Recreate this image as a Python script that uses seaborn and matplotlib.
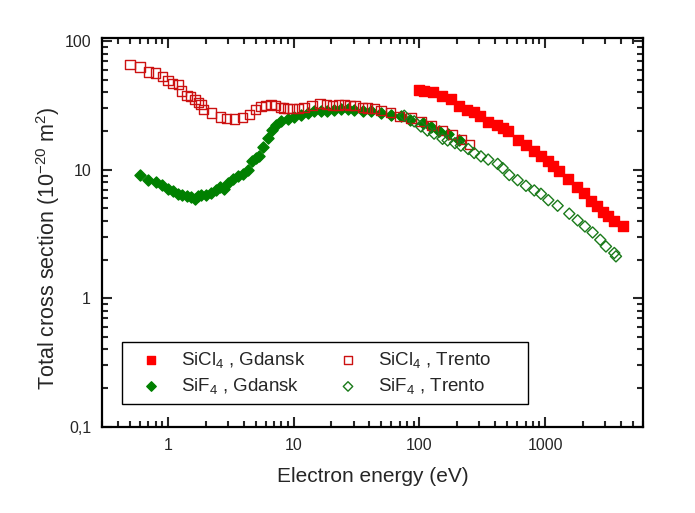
import numpy as np
import pandas as pd
import matplotlib
matplotlib.use("Agg")
import matplotlib.pyplot as plt
from matplotlib.patches import Rectangle
from matplotlib.ticker import FixedLocator, LogLocator, NullFormatter
import seaborn as sns

# SiCl4, Gdansk (filled squares)
sicl4_gd_e = [100, 109, 128, 151, 178, 208, 239, 274, 305, 353, 412, 460, 509,
              612, 709, 821, 927, 1049, 1148, 1297, 1530, 1795, 2052, 2318,
              2588, 2871, 3147, 3555, 4142]
sicl4_gd_q = [42, 41.2, 40.2, 37.7, 35.7, 31.6, 29.3, 27.9, 26, 23.5, 22.3, 21.2,
              20.1, 17.1, 15.6, 14.1, 12.7, 11.6, 10.7, 9.7, 8.5, 7.4, 6.6, 5.7,
              5.2, 4.7, 4.4, 3.96, 3.62]

# SiCl4, Trento (open squares)
sicl4_tr_e = [0.5, 0.6, 0.7, 0.8, 0.9, 1.0, 1.09, 1.21, 1.29, 1.42, 1.52, 1.64,
              1.75, 1.83, 1.92, 2.23, 2.61, 2.91, 3.41, 3.9, 4.43, 4.95, 5.5,
              6.0, 6.6, 7.2, 7.9, 8.3, 8.95, 9.8, 10.9, 12.1, 14.0, 16.2, 18.2,
              20.4, 22.6, 25.3, 28.1, 30.8, 35.4, 38.8, 43.8, 49.5, 59.4, 69.2,
              86, 103, 125, 153, 184, 215, 250]
sicl4_tr_q = [65.6, 63, 57.6, 56.5, 53, 49.5, 47, 45.8, 41, 37.7, 37.2, 35,
              33.4, 32, 29.3, 27.6, 25.7, 24.9, 24.8, 25.5, 26.8, 29.3, 31.1,
              31.5, 32, 31.6, 30.7, 30.2, 29.8, 29.8, 29.8, 30.4, 31.5, 32.6, 32,
              31.6, 31.9, 32, 31.5, 31.5, 30.7, 30.2, 29.8, 28.8, 27.9, 26,
              25.3, 23.8, 22.0, 20.2, 18.7, 17.2, 15.7]

# SiF4, Gdansk (filled diamonds)
sif4_gd_e = [0.6, 0.7, 0.8, 0.9, 1.0, 1.09, 1.21, 1.29, 1.42, 1.52, 1.64, 1.75,
             1.83, 2.01, 2.2, 2.41, 2.61, 2.81, 2.98, 3.27, 3.58, 3.93, 4.3,
             4.63, 5.01, 5.33, 5.7, 6.21, 6.68, 7.23, 7.93, 8.95, 10.1, 11.4,
             12.9, 14.6, 16.5, 18.6, 21.0, 23.8, 26.9, 30.4, 35.4, 41.2, 49.5,
             59.4, 71.4, 85, 106, 124, 144, 168, 208]
sif4_gd_q = [9.03, 8.36, 7.96, 7.55, 7.08, 6.78, 6.5, 6.31, 6.2, 6.09, 5.94, 6.2,
             6.39, 6.31, 6.59, 6.9, 7.33, 7.08, 7.88, 8.46, 8.87, 9.31, 10.0,
             11.7, 12.3, 12.7, 14.9, 17.6, 20.5, 22.4, 23.8, 24.8, 25.7, 26.8,
             27.6, 28.4, 28.4, 28.8, 29.3, 29.7, 29.7, 29.3, 28.9, 28.4, 27.6,
             26.8, 26, 24.5, 23.1, 21.7, 19.9, 19.1, 17.1]

# SiF4, Trento (open diamonds)
sif4_tr_e = [75.9, 91, 103, 116, 131, 153, 168, 192, 214, 245, 273, 309, 353,
             420, 460, 519, 605, 705, 821, 927, 1061, 1259, 1559, 1817, 2077,
             2391, 2750, 3050, 3555, 3664]
sif4_tr_q = [26.3, 23.8, 21.7, 20.2, 19.1, 17.4, 16.9, 16.1, 15.4, 14.5, 13.5,
             12.7, 12.0, 11.1, 10.3, 9.1, 8.3, 7.5, 6.9, 6.5, 5.8, 5.25, 4.55,
             4.04, 3.62, 3.25, 2.85, 2.53, 2.25, 2.12]

x_ticks = [1, 10, 100, 1000]
x_tick_labels = ["1", "10", "100", "1000"]
y_ticks = [0.1, 1, 10, 100]
y_tick_labels = ["0,1", "1", "10", "100"]

sns.set_style("ticks")
plt.rcParams['font.family'] = ['Liberation Sans', 'DejaVu Sans']
plt.rcParams['mathtext.default'] = 'regular'

fig = plt.figure(figsize=(6.95, 5.13), dpi=100)
ax = fig.add_axes([0.147, 0.168, 0.778, 0.758])

series = [
    (sicl4_gd_e, sicl4_gd_q, "s", "#ff0000", "#ff0000", 44, r"SiCl$_4$ , Gdansk"),
    (sif4_gd_e, sif4_gd_q, "D", "#008000", "#008000", 32, r"SiF$_4$ , Gdansk"),
    (sicl4_tr_e, sicl4_tr_q, "s", "none", "#cc1111", 44, r"SiCl$_4$ , Trento"),
    (sif4_tr_e, sif4_tr_q, "D", "none", "#1a7a1a", 32, r"SiF$_4$ , Trento"),
]
for e, q, m, fc, ec, s, lab in series:
    df = pd.DataFrame({"energy": e, "sigma": q})
    sns.scatterplot(data=df, x="energy", y="sigma", marker=m, s=s,
                    facecolor=fc, edgecolor=ec, linewidth=1.0, label=lab, ax=ax)

ax.set_xscale("log")
ax.set_yscale("log")
ax.set_xlim(0.3, 6000)
ax.set_ylim(0.1, 106)

ax.xaxis.set_major_locator(FixedLocator(x_ticks))
ax.set_xticklabels(x_tick_labels)
ax.yaxis.set_major_locator(FixedLocator(y_ticks))
ax.set_yticklabels(y_tick_labels)
ax.xaxis.set_minor_locator(LogLocator(base=10, subs=np.arange(2, 10), numticks=20))
ax.yaxis.set_minor_locator(LogLocator(base=10, subs=np.arange(2, 10), numticks=20))
ax.xaxis.set_minor_formatter(NullFormatter())
ax.yaxis.set_minor_formatter(NullFormatter())

ax.tick_params(which="both", direction="in", top=True, right=True, width=1.5,
               labelsize=11.5, pad=8)
ax.tick_params(which="major", length=7)
ax.tick_params(which="minor", length=4)
for sp in ax.spines.values():
    sp.set_linewidth(1.6)
    sp.set_color("black")

ax.set_xlabel("Electron energy (eV)", fontsize=15, labelpad=10)
ax.set_ylabel(r"Total cross section (10$^{-20}$ m$^2$)", fontsize=15.5)
ax.yaxis.set_label_coords(-0.075, 0.46)

leg = ax.legend(ncol=2, loc="lower left", bbox_to_anchor=(0.037, 0.059),
                borderaxespad=0, fontsize=13.5, frameon=False,
                handletextpad=0.45, columnspacing=1.1,
                borderpad=0.4, labelspacing=0.35, markerscale=0.85,
                handlelength=2.3)

# box round the legend, a bit wider on the right as in the original
fig.canvas.draw()
bb = leg.get_window_extent().transformed(ax.transAxes.inverted())
ax.add_patch(Rectangle((bb.x0, bb.y0), bb.width + 29 / 541, bb.height,
                       transform=ax.transAxes, fill=False, edgecolor="black",
                       linewidth=1.0, zorder=5))

fig.savefig("out.png", dpi=100)
